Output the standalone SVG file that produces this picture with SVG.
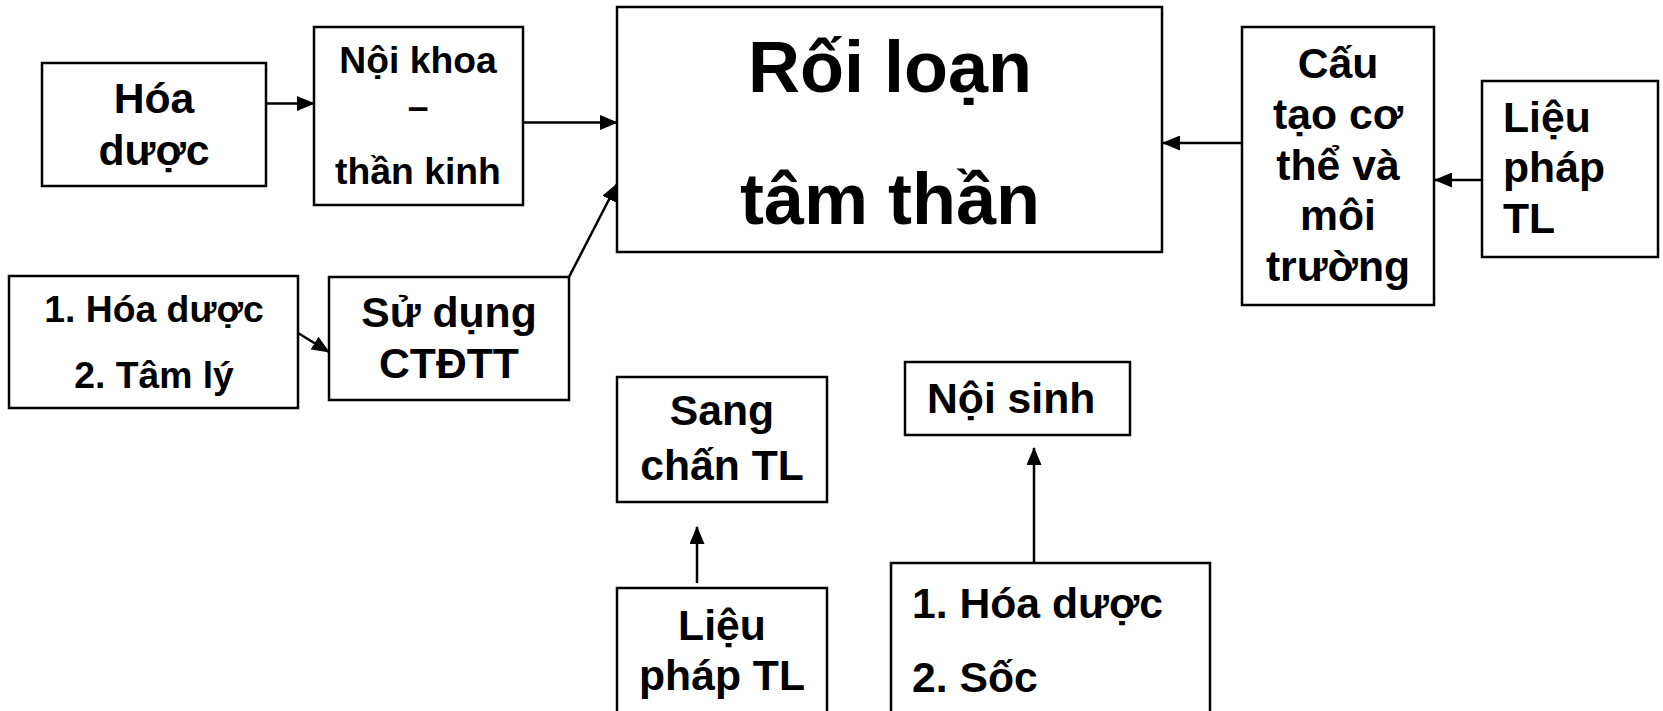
<svg xmlns="http://www.w3.org/2000/svg" width="1663" height="711" viewBox="0 0 1663 711">
<style>
.box{fill:#fff;stroke:#000;stroke-width:2.5}
.t{font-family:"Liberation Sans",Arial,sans-serif;font-weight:bold;fill:#000}
.c{text-anchor:middle}
.f32{font-size:42.7px}
.f28{font-size:37.3px}
.f54{font-size:72px}
.ln{stroke:#000;stroke-width:2.5;fill:none;marker-end:url(#ah)}
</style>
<defs>
<marker id="ah" markerUnits="userSpaceOnUse" markerWidth="18" markerHeight="15" viewBox="0 0 18 15" refX="17" refY="7.5" orient="auto">
<path d="M0,0 L18,7.5 L0,15 Z" fill="#000"/>
</marker>
</defs>
<rect width="1663" height="711" fill="#fff"/>
<g id="connectors">
<line class="ln" x1="266" y1="103.5" x2="314" y2="103.5"/>
<line class="ln" x1="523" y1="122.5" x2="617" y2="122.5"/>
<line class="ln" x1="569" y1="277" x2="617" y2="184"/>
<line class="ln" x1="298" y1="333" x2="329" y2="352"/>
<line class="ln" x1="1242" y1="143" x2="1163" y2="143"/>
<line class="ln" x1="1482" y1="180" x2="1435" y2="180"/>
<line class="ln" x1="697" y1="583" x2="697" y2="527"/>
<line class="ln" x1="1034" y1="563" x2="1034" y2="448"/>
</g>
<g id="hoa-duoc">
<rect class="box" x="42" y="63" width="224" height="123"/>
<text class="t c f32" x="154" y="113">Hóa</text>
<text class="t c f32" x="154" y="165">dược</text>
</g>
<g id="noi-khoa">
<rect class="box" x="314" y="27" width="209" height="178"/>
<text class="t c f28" x="418" y="73">Nội khoa</text>
<text class="t c f28" x="418" y="119">–</text>
<text class="t c f28" x="418" y="184">thần kinh</text>
</g>
<g id="roi-loan">
<rect class="box" x="617" y="7" width="545" height="245"/>
<text class="t c f54" x="890" y="92">Rối loạn</text>
<text class="t c f54" x="890" y="224">tâm thần</text>
</g>
<g id="cau-tao">
<rect class="box" x="1242" y="27" width="192" height="278"/>
<text class="t c f32" x="1338" y="78">Cấu</text>
<text class="t c f32" x="1338" y="129">tạo cơ</text>
<text class="t c f32" x="1338" y="180">thể và</text>
<text class="t c f32" x="1338" y="230">môi</text>
<text class="t c f32" x="1338" y="281">trường</text>
</g>
<g id="lieu-phap-right">
<rect class="box" x="1482" y="81" width="176" height="176"/>
<text class="t f32" x="1503" y="132">Liệu</text>
<text class="t f32" x="1503" y="182">pháp</text>
<text class="t f32" x="1503" y="233">TL</text>
</g>
<g id="list-left">
<rect class="box" x="9" y="276" width="289" height="132"/>
<text class="t c f28" x="154" y="322">1. Hóa dược</text>
<text class="t c f28" x="154" y="388">2. Tâm lý</text>
</g>
<g id="su-dung">
<rect class="box" x="329" y="277" width="240" height="123"/>
<text class="t c f32" x="449" y="327">Sử dụng</text>
<text class="t c f32" x="449" y="378">CTĐTT</text>
</g>
<g id="sang-chan">
<rect class="box" x="617" y="377" width="210" height="125"/>
<text class="t c f32" x="722" y="425">Sang</text>
<text class="t c f32" x="722" y="480">chấn TL</text>
</g>
<g id="noi-sinh">
<rect class="box" x="905" y="362" width="225" height="73"/>
<text class="t f32" x="927" y="413">Nội sinh</text>
</g>
<g id="lieu-phap-bottom">
<rect class="box" x="617" y="588" width="210" height="140"/>
<text class="t c f32" x="722" y="640">Liệu</text>
<text class="t c f32" x="722" y="690">pháp TL</text>
</g>
<g id="list-bottom">
<rect class="box" x="891" y="563" width="319" height="165"/>
<text class="t f32" x="912" y="618">1. Hóa dược</text>
<text class="t f32" x="912" y="692">2. Sốc</text>
</g>
</svg>
